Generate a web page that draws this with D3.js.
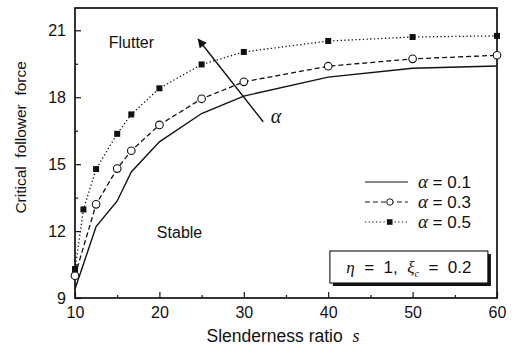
<!DOCTYPE html>
<html>
<head>
<meta charset="utf-8">
<script src="https://cdn.jsdelivr.net/npm/d3@7"></script>
<style>
  body { margin: 0; background: #fff; }
  text { font-family: "Liberation Sans", Arial, sans-serif; fill: #111; white-space: pre; }
  .greek { font-family: "Liberation Serif", "Times New Roman", serif; font-style: italic; }
</style>
</head>
<body>
<div id="chart"></div>
<script>
// values
var sA1 = [10, 12.5, 15, 16.67, 20, 25, 30, 40, 50, 60];
var fA1 = [9.4, 12.2, 13.35, 14.65, 16.0, 17.27, 18.05, 18.9, 19.3, 19.4];

var sA3 = [10, 12.5, 15, 16.67, 20, 25, 30, 40, 50, 60];
var fA3 = [10.0, 13.2, 14.8, 15.6, 16.76, 17.93, 18.69, 19.39, 19.72, 19.88];

var sA5 = [10, 11, 12.5, 15, 16.67, 20, 25, 30, 40, 50, 60];
var fA5 = [10.3, 12.97, 14.78, 16.36, 17.23, 18.4, 19.47, 20.03, 20.52, 20.7, 20.75];

var xTicks = [10, 20, 30, 40, 50, 60];
var xMinor = [15, 25, 35, 45, 55];
var yTicks = [9, 12, 15, 18, 21];
var yMinor = [10.5, 13.5, 16.5, 19.5];

var legendLabels = ["0.1", "0.3", "0.5"];

var margin = { top: 8, right: 18, bottom: 55, left: 75 },
    width = 515 - margin.left - margin.right,
    height = 353 - margin.top - margin.bottom;

var x = d3.scaleLinear().domain([10, 60]).range([0, width]);
var y = d3.scaleLinear().domain([9, 22]).range([height, 0]);

var svg = d3.select("#chart").append("svg")
    .attr("width", 515)
    .attr("height", 353)
  .append("g")
    .attr("transform", "translate(" + margin.left + "," + margin.top + ")");

function zipData(s, f) {
    return s.map(function(v, i) { return { s: v, f: f[i] }; });
}

var series = [
    { data: zipData(sA1, fA1), dash: null, marker: "none" },
    { data: zipData(sA3, fA3), dash: "5,3", marker: "circle" },
    { data: zipData(sA5, fA5), dash: "1.3,2.4", marker: "square" }
];

// frame
svg.append("rect")
    .attr("width", width)
    .attr("height", height)
    .attr("fill", "none")
    .attr("stroke", "#111")
    .attr("stroke-width", 1.7);

// axes, ticks inside
svg.append("g")
    .attr("transform", "translate(0," + height + ")")
    .call(d3.axisBottom(x).tickValues(xTicks).tickSize(-6).tickPadding(9).tickFormat(d3.format("d")));
svg.append("g")
    .attr("transform", "translate(0," + height + ")")
    .call(d3.axisBottom(x).tickValues(xMinor).tickSize(-3).tickFormat(""));

svg.append("g")
    .call(d3.axisLeft(y).tickValues(yTicks).tickSize(-6).tickPadding(9).tickFormat(d3.format("d")));
svg.append("g")
    .call(d3.axisLeft(y).tickValues(yMinor).tickSize(-3).tickFormat(""));

svg.selectAll(".domain").remove();
svg.selectAll(".tick line").attr("stroke", "#111").attr("stroke-width", 1.2);
svg.selectAll(".tick text").style("font-size", "16px").style("font-family", "Liberation Sans, Arial, sans-serif").attr("fill", "#111");

// axis titles
svg.append("text")
    .attr("x", x(35) - 3)
    .attr("y", height + 44)
    .attr("text-anchor", "middle")
    .style("font-size", "17.5px")
    .text("Slenderness ratio  ")
  .append("tspan")
    .attr("class", "greek")
    .style("font-size", "18px")
    .text("s");

svg.append("text")
    .attr("transform", "translate(" + (-49) + "," + (y(16.2)) + ") rotate(-90)")
    .attr("text-anchor", "middle")
    .style("font-size", "15.5px")
    .text("Critical  follower  force");

// curves
var line = d3.line()
    .x(function(d) { return x(d.s); })
    .y(function(d) { return y(d.f); });

series.forEach(function(sr) {
    svg.append("path")
        .datum(sr.data)
        .attr("fill", "none")
        .attr("stroke", "#111")
        .attr("stroke-width", sr.dash === null ? 1.4 : 1.3)
        .attr("stroke-dasharray", sr.dash)
        .attr("d", line);

    if (sr.marker === "circle") {
        svg.selectAll(null)
            .data(sr.data)
            .enter().append("circle")
            .attr("cx", function(d) { return x(d.s); })
            .attr("cy", function(d) { return y(d.f); })
            .attr("r", 3.8)
            .attr("fill", "#fff")
            .attr("stroke", "#111")
            .attr("stroke-width", 1.1);
    } else if (sr.marker === "square") {
        svg.selectAll(null)
            .data(sr.data)
            .enter().append("rect")
            .attr("x", function(d) { return x(d.s) - 3; })
            .attr("y", function(d) { return y(d.f) - 3; })
            .attr("width", 6)
            .attr("height", 6)
            .attr("fill", "#111");
    }
});

// region labels
svg.append("text")
    .attr("x", x(14))
    .attr("y", y(20.2))
    .style("font-size", "16px")
    .text("Flutter");

svg.append("text")
    .attr("x", x(19.7))
    .attr("y", y(11.7))
    .style("font-size", "16px")
    .text("Stable");

// arrow for increasing alpha
svg.append("defs").append("marker")
    .attr("id", "head")
    .attr("viewBox", "0 0 10 10")
    .attr("refX", 9)
    .attr("refY", 5)
    .attr("markerWidth", 10)
    .attr("markerHeight", 9)
    .attr("markerUnits", "userSpaceOnUse")
    .attr("orient", "auto")
  .append("path")
    .attr("d", "M0,0 L10,5 L0,10 Z")
    .attr("fill", "#111");

svg.append("line")
    .attr("x1", x(32.3))
    .attr("y1", y(16.9))
    .attr("x2", x(24.6))
    .attr("y2", y(20.6))
    .attr("stroke", "#111")
    .attr("stroke-width", 1.4)
    .attr("marker-end", "url(#head)");

svg.append("text")
    .attr("class", "greek")
    .attr("x", x(33.2))
    .attr("y", y(16.85))
    .style("font-size", "20px")
    .text("α");

// legend
var legend = svg.selectAll(".legend-item")
    .data(series)
    .enter().append("g")
    .attr("class", "legend-item")
    .attr("transform", function(d, i) { return "translate(" + (x(44.35)) + "," + (174 + i * 20) + ")"; });

legend.append("line")
    .attr("x1", 0)
    .attr("x2", 43)
    .attr("stroke", "#111")
    .attr("stroke-width", 1.2)
    .attr("stroke-dasharray", function(d) { return d.dash; });

legend.filter(function(d) { return d.marker === "circle"; })
    .append("circle")
    .attr("cx", 25)
    .attr("r", 3.2)
    .attr("fill", "#fff")
    .attr("stroke", "#111");

legend.filter(function(d) { return d.marker === "square"; })
    .append("rect")
    .attr("x", 22)
    .attr("y", -2.8)
    .attr("width", 5.6)
    .attr("height", 5.6)
    .attr("fill", "#111");

var legText = legend.append("text")
    .attr("x", 53)
    .attr("y", 6)
    .style("font-size", "17px");
legText.append("tspan")
    .attr("class", "greek")
    .style("font-size", "19px")
    .text("α");
legText.append("tspan")
    .text(function(d, i) { return " = " + legendLabels[i]; });

// parameter box with shadow
var bx = x(40.2), by = 243, bw = 158, bh = 32;
svg.append("rect")
    .attr("x", bx + 3)
    .attr("y", by + 3)
    .attr("width", bw)
    .attr("height", bh)
    .attr("fill", "#111");
svg.append("rect")
    .attr("x", bx)
    .attr("y", by)
    .attr("width", bw)
    .attr("height", bh)
    .attr("fill", "#fff")
    .attr("stroke", "#111")
    .attr("stroke-width", 1.1);

var boxText = svg.append("text")
    .attr("x", bx + bw / 2)
    .attr("y", by + 22)
    .attr("text-anchor", "middle")
    .style("font-size", "17px");
boxText.append("tspan").attr("class", "greek").text("η");
boxText.append("tspan").text("  =  1,  ");
boxText.append("tspan").attr("class", "greek").text("ξ");
boxText.append("tspan").attr("class", "greek").attr("dy", 4).style("font-size", "10px").text("c");
boxText.append("tspan").attr("dy", -4).text("  =  0.2");
</script>
</body>
</html>
